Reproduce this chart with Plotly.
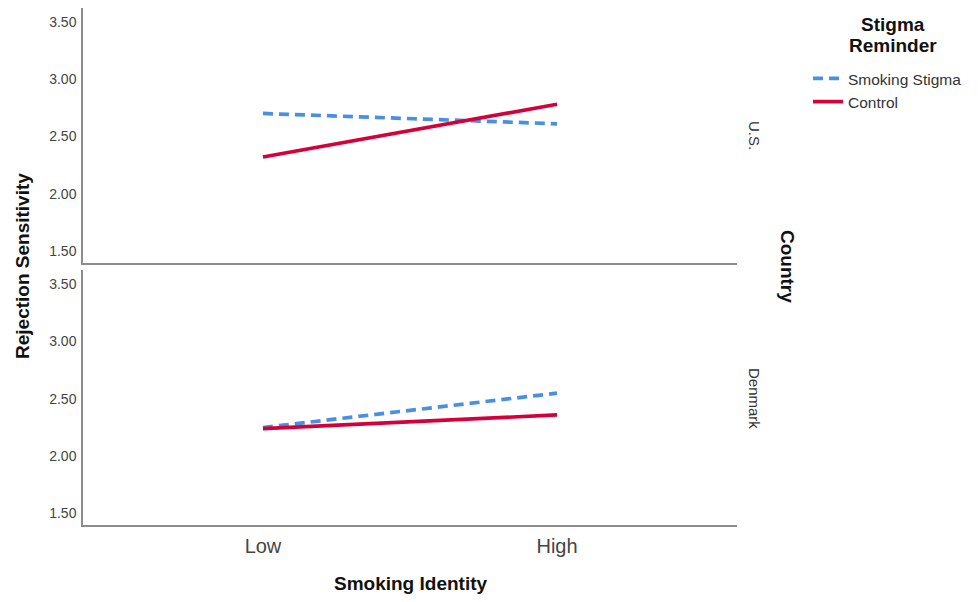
import plotly.graph_objects as go

categories = ["Low", "High"]
us_stigma = [2.70, 2.61]
us_control = [2.32, 2.78]
dk_stigma = [2.25, 2.55]
dk_control = [2.24, 2.36]
y_ticks = [1.5, 2.0, 2.5, 3.0, 3.5]
y_tick_labels = ["1.50", "2.00", "2.50", "3.00", "3.50"]
blue = "#4a90e2"
red = "#d5003a"
FONT = "Liberation Sans, Arial, sans-serif"

# page body has an 8px default margin; compensate
OFF = 8
W, H = 979 - OFF, 602 - OFF
L, R, T, B = 83 - OFF, 737 - OFF, 0, 525 - OFF  # plot-area edges in figure pixels
PW, PH = R - L, B - T

x = [0, 1]
dash = "10px,6px"
fig = go.Figure()
fig.add_trace(go.Scatter(x=x, y=us_stigma, mode="lines", name="Smoking Stigma",
                         line=dict(color=blue, width=3.7, dash=dash),
                         xaxis="x", yaxis="y"))
fig.add_trace(go.Scatter(x=x, y=us_control, mode="lines", name="Control",
                         line=dict(color=red, width=3.7),
                         xaxis="x", yaxis="y"))
fig.add_trace(go.Scatter(x=x, y=dk_stigma, mode="lines", name="Smoking Stigma",
                         line=dict(color=blue, width=3.7, dash=dash),
                         xaxis="x2", yaxis="y2", showlegend=False))
fig.add_trace(go.Scatter(x=x, y=dk_control, mode="lines", name="Control",
                         line=dict(color=red, width=3.7),
                         xaxis="x2", yaxis="y2", showlegend=False))

axis_color = "#8c8c8c"
yax = dict(range=[1.40, 3.62], tickvals=y_ticks, ticktext=y_tick_labels,
           showline=True, linecolor=axis_color, linewidth=1.5, showgrid=False,
           zeroline=False, ticks="", tickfont=dict(family=FONT, size=14, color="#444"),
           ticklabelstandoff=2)
xax = dict(range=[-0.612, 1.612], showline=True, linecolor=axis_color, linewidth=1.5,
           showgrid=False, zeroline=False, ticks="")

top_bottom = (525 - 262) / 518
bot_top = (525 - 270) / 518

fig.update_layout(
    width=W, height=H,
    margin=dict(l=L, r=W - R, t=T, b=H - B, autoexpand=False),
    plot_bgcolor="white", paper_bgcolor="white",
    showlegend=True,
    xaxis=dict(**xax, domain=[0, 1], anchor="y", showticklabels=False),
    yaxis=dict(**yax, domain=[top_bottom, 1.0], anchor="x"),
    xaxis2=dict(**xax, domain=[0, 1], anchor="y2", tickvals=x, ticktext=categories,
                tickfont=dict(family=FONT, size=20, color="#444"), ticklabelstandoff=2),
    yaxis2=dict(**yax, domain=[0.0, bot_top], anchor="x2"),
    legend=dict(x=(808 - 83) / 654, y=(525 - 61) / 518, xanchor="left", yanchor="top",
                font=dict(family=FONT, size=15.5, color="#333"),
                tracegroupgap=0, itemwidth=30, bgcolor="rgba(0,0,0,0)"),
    font=dict(family=FONT),
)

annotations = [
    dict(text="<b>Rejection Sensitivity</b>", x=22, y=266, textangle=-90,
         font=dict(size=19, color="#111")),
    dict(text="<b>Smoking Identity</b>", x=411, y=583, font=dict(size=19, color="#111")),
    dict(text="<b>Country</b>", x=788, y=266, textangle=90, font=dict(size=19, color="#111")),
    dict(text="U.S.", x=755, y=135, textangle=90, font=dict(size=15, color="#333")),
    dict(text="Denmark", x=755, y=398, textangle=90, font=dict(size=15, color="#333")),
    dict(text="<b>Stigma</b>", x=893, y=25, font=dict(size=19, color="#111")),
    dict(text="<b>Reminder</b>", x=893, y=46, font=dict(size=19, color="#111")),
]
for a in annotations:
    px = a["x"] - OFF
    py = a["y"] - OFF
    fig.add_annotation(text=a["text"], x=(px - L) / PW, y=(B - py) / PH,
                       xref="paper", yref="paper", xanchor="center", yanchor="middle",
                       showarrow=False, textangle=a.get("textangle", 0),
                       font=dict(family=FONT, **a["font"]))

fig.write_html("out.html")
